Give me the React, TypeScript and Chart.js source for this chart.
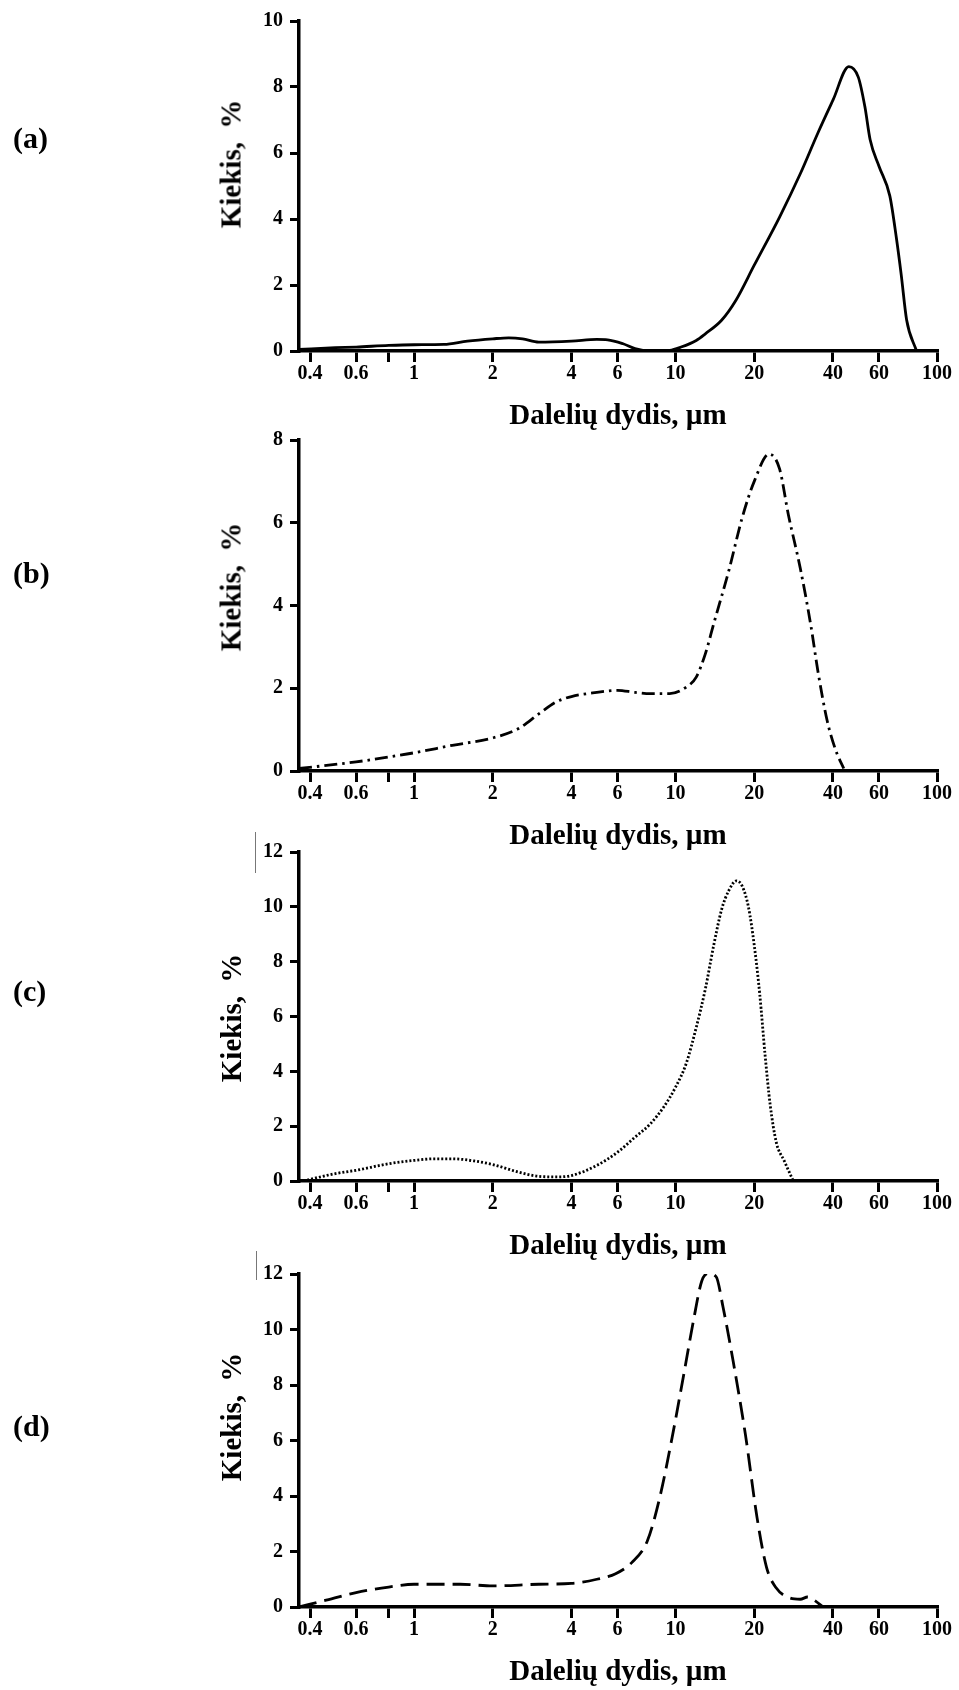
import React, { useEffect, useRef } from "react";
import { Chart, registerables } from "chart.js";

Chart.register(...registerables);

// ---------- data ----------
const xTickValues = [0.4, 0.6, 0.8, 1, 2, 4, 6, 10, 20, 40, 60, 100];
const xTickLabels = ["0.4", "0.6", "", "1", "2", "4", "6", "10", "20", "40", "60", "100"];
const xMin = 0.363;
const xMax = 100;

const panelLabels = ["(a)", "(b)", "(c)", "(d)"];
const xTitle = "Dalelių dydis, µm";
const yTitle = "Kiekis, %";
const yMaxes = [10, 8, 12, 12];

const sizesA = [0.363, 0.5, 0.6, 0.8, 1, 1.3, 1.6, 2, 2.3, 2.6, 3, 4, 5, 5.5, 6.3, 7, 8, 9.5, 10.5, 12, 13, 15, 17, 20, 25, 30, 35, 40, 46, 50, 53, 55.5, 60, 66, 70, 73, 76.5, 83.5];
const valuesA = [0.05, 0.1, 0.12, 0.17, 0.19, 0.2, 0.3, 0.37, 0.4, 0.37, 0.27, 0.3, 0.35, 0.34, 0.22, 0.07, 0.0, 0.02, 0.12, 0.32, 0.52, 0.93, 1.53, 2.6, 4.06, 5.37, 6.6, 7.6, 8.62, 8.3, 7.4, 6.4, 5.6, 4.7, 3.4, 2.3, 0.95, 0];

const sizesB = [0.363, 0.6, 0.8, 1, 1.4, 2, 2.5, 3, 3.5, 4, 5, 6, 7, 8, 9.5, 11, 12, 13, 14, 16, 18, 20, 22.8, 25, 27, 30, 33, 35, 38, 41, 44];
const valuesB = [0.06, 0.22, 0.34, 0.44, 0.62, 0.8, 1.02, 1.38, 1.67, 1.8, 1.9, 1.95, 1.9, 1.87, 1.87, 2.03, 2.27, 2.83, 3.56, 4.85, 6.13, 7.0, 7.66, 7.3, 6.2, 4.9, 3.48, 2.43, 1.22, 0.5, 0.06];

const sizesC = [0.377, 0.5, 0.6, 0.8, 1, 1.2, 1.4, 1.7, 2, 2.5, 3, 3.5, 4, 5, 6, 7, 8, 9, 10, 11, 12, 13, 14, 15, 16, 17.1, 18, 19, 20, 21, 22, 23, 24.3, 26, 28.2];
const valuesC = [0, 0.27, 0.39, 0.63, 0.75, 0.81, 0.81, 0.73, 0.6, 0.33, 0.17, 0.15, 0.2, 0.57, 1.05, 1.6, 2.08, 2.69, 3.42, 4.3, 5.6, 7.0, 8.6, 9.9, 10.6, 10.95, 10.75, 10.0, 8.6, 6.8, 4.6, 2.8, 1.4, 0.75, 0];

const sizesD = [0.363, 0.45, 0.6, 0.8, 1, 1.5, 2, 3, 4, 5, 5.9, 6.8, 7.8, 8.7, 9.7, 10.7, 11.7, 12.6, 13.4, 14.3, 15.2, 16.6, 18.5, 20.5, 22.3, 24.2, 27.1, 30, 32, 34, 36.6];
const valuesD = [0, 0.22, 0.52, 0.72, 0.82, 0.82, 0.76, 0.82, 0.85, 1.0, 1.2, 1.6, 2.38, 3.94, 6.1, 8.27, 10.3, 11.75, 12.02, 11.9, 10.8, 8.87, 6.22, 3.22, 1.42, 0.7, 0.34, 0.28, 0.36, 0.24, 0];

const allSizes = [sizesA, sizesB, sizesC, sizesD];
const allValues = [valuesA, valuesB, valuesC, valuesD];

// ---------- styles / layout ----------
const FONT = '"Liberation Serif", "Times New Roman", Times, serif';
const dashes = [[], [13, 5, 2.5, 5], [2, 2], [18, 8]];
const lineWidths = [2.8, 2.8, 2.8, 2.8];
const plotTops = [20, 439, 851, 1273];
const plotBottoms = [351, 771, 1181, 1607];
const yTitleCenters = [164, 587, 1018, 1417];
const labelCenters = [140, 575, 993, 1428];
const PLOT_LEFT = 299;
const PLOT_RIGHT = 937;
const PAD_TOP = 18;
const X_AXIS_H = 83;

function Panel({ idx }: { idx: number }) {
  const ref = useRef<HTMLCanvasElement | null>(null);
  const plotH = plotBottoms[idx] - plotTops[idx];
  const canvasTop = plotTops[idx] - PAD_TOP;
  const canvasH = PAD_TOP + plotH + X_AXIS_H;

  useEffect(() => {
    if (!ref.current) return;
    const sizes = allSizes[idx];
    const vals = allValues[idx];
    const chart = new Chart(ref.current, {
      type: "line",
      data: {
        datasets: [
          {
            data: sizes.map((x, i) => ({ x, y: vals[i] })),
            borderColor: "#000",
            borderWidth: lineWidths[idx],
            borderDash: dashes[idx],
            borderCapStyle: "butt",
            pointRadius: 0,
            fill: false,
            cubicInterpolationMode: "monotone",
          },
        ],
      },
      options: {
        responsive: false,
        maintainAspectRatio: false,
        animation: false,
        devicePixelRatio: 1,
        layout: { padding: { left: 200, right: 959 - PLOT_RIGHT, top: PAD_TOP, bottom: 0 } },
        plugins: { legend: { display: false }, tooltip: { enabled: false } },
        scales: {
          x: {
            type: "logarithmic",
            min: xMin,
            max: xMax,
            afterBuildTicks: (s: any) => {
              s.ticks = xTickValues.map((v) => ({ value: v }));
            },
            afterFit: (s: any) => {
              s.height = X_AXIS_H;
            },
            ticks: {
              autoSkip: false,
              maxRotation: 0,
              minRotation: 0,
              padding: 0,
              color: "#000",
              font: { family: FONT, size: 20, weight: "bold" },
              callback: (_v: any, i: number) => xTickLabels[i] ?? "",
            },
            grid: { drawOnChartArea: false, drawTicks: true, tickLength: 11, color: "#000", lineWidth: 3 },
            border: { display: true, color: "#000", width: 3.5 },
            title: {
              display: true,
              text: xTitle,
              color: "#000",
              font: { family: FONT, size: 29, weight: "bold" },
              padding: 0,
            },
          },
          y: {
            min: 0,
            max: yMaxes[idx],
            afterFit: (s: any) => {
              s.width = PLOT_LEFT - 200;
            },
            ticks: {
              stepSize: 2,
              padding: 7,
              color: "#000",
              font: { family: FONT, size: 20, weight: "bold" },
            },
            grid: { drawOnChartArea: false, drawTicks: true, tickLength: 9, color: "#000", lineWidth: 3 },
            border: { display: true, color: "#000", width: 3.5 },
          },
        },
      },
    } as any);
    return () => chart.destroy();
  }, [idx]);

  return (
    <>
      <canvas
        ref={ref}
        width={959}
        height={canvasH}
        style={{ position: "absolute", left: 0, top: canvasTop, width: 959, height: canvasH, display: "block" }}
      />
      <div
        style={{
          position: "absolute",
          left: 13,
          top: labelCenters[idx] - 17,
          fontFamily: FONT,
          fontWeight: "bold",
          fontSize: 30,
          lineHeight: "30px",
          whiteSpace: "nowrap",
          color: "#000",
        }}
      >
        {panelLabels[idx]}
      </div>
      <div
        style={{
          position: "absolute",
          left: 231,
          top: yTitleCenters[idx],
          transform: "translate(-50%, -50%) rotate(-90deg)",
          fontFamily: FONT,
          fontWeight: "bold",
          fontSize: 29,
          lineHeight: "29px",
          whiteSpace: "pre",
          wordSpacing: 6,
          color: "#000",
        }}
      >
        {yTitle}
      </div>
    </>
  );
}

export default function App() {
  return (
    <div style={{ position: "absolute", left: 0, top: 0, width: 959, height: 1690, background: "#fff", overflow: "hidden" }}>
      {[0, 1, 2, 3].map((i) => (
        <Panel key={i} idx={i} />
      ))}
      <div style={{ position: "absolute", left: 255, top: 832, width: 1, height: 41, background: "#777" }} />
      <div style={{ position: "absolute", left: 256, top: 1251, width: 1, height: 29, background: "#777" }} />
    </div>
  );
}
